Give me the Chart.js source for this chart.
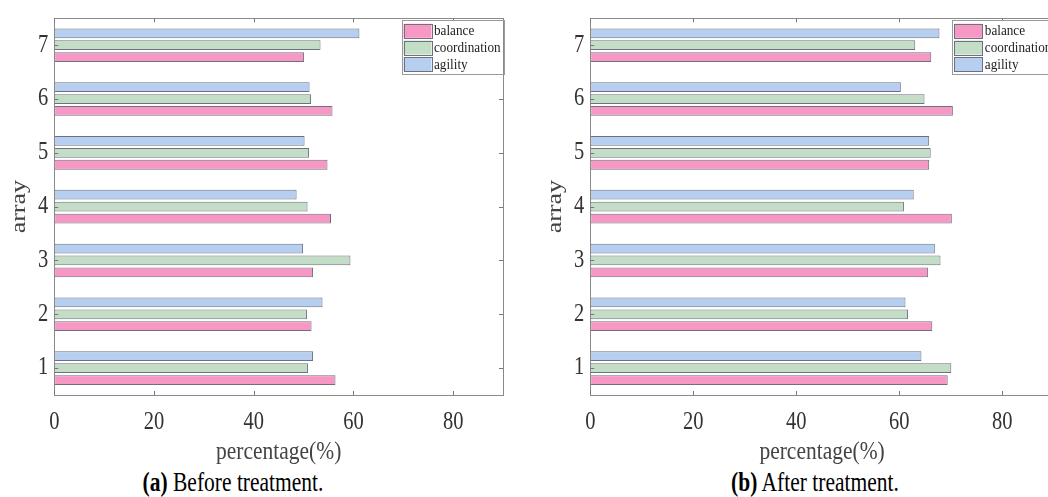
<!DOCTYPE html>
<html><head><meta charset="utf-8">
<script src="https://cdn.jsdelivr.net/npm/chart.js@4/dist/chart.umd.min.js"></script>
<style>
html,body{margin:0;padding:0;background:#fff;overflow:hidden;width:1048px;height:497px;position:relative;}
.panel{position:absolute;top:0;height:465px;}
#pa{left:0;width:520px;}
#pb{left:536px;width:530px;}
.cap{position:absolute;top:470px;font-family:"Liberation Serif","Times New Roman",serif;font-size:21.5px;color:#000;white-space:nowrap;transform:translateX(-50%) scaleY(1.24);line-height:24px;}
</style></head>
<body>
<div class="panel" id="pa"><canvas id="ca"></canvas></div>
<div class="panel" id="pb"><canvas id="cb"></canvas></div>
<div class="cap" style="left:233px"><b>(a)</b> Before treatment.</div>
<div class="cap" style="left:815px"><b>(b)</b> After treatment.</div>
<script>
// Categories (array index 1..7)
const categories = ['1','2','3','4','5','6','7'];
const seriesNames = ['agility','coordination','balance'];
const legendOrder = ['balance','coordination','agility'];
// (a) Before treatment
const beforeAgility      = [51.9, 53.8, 49.9, 48.6, 50.2, 51.2, 61.2];
const beforeCoordination = [50.9, 50.7, 59.4, 50.8, 51.1, 51.5, 53.4];
const beforeBalance      = [56.4, 51.6, 51.9, 55.5, 54.8, 55.8, 50.1];
// (b) After treatment
const afterAgility      = [64.3, 61.2, 66.9, 62.8, 65.8, 60.3, 67.8];
const afterCoordination = [70.1, 61.7, 68.0, 60.9, 66.1, 64.9, 63.1];
const afterBalance      = [69.4, 66.4, 65.6, 70.2, 65.8, 70.4, 66.2];
// x-axis
const xTicks = [0, 20, 40, 60, 80];
const xMax = 90;

const colors = {agility:'#b6cff0', coordination:'#c3ddc6', balance:'#f798c4'};
const barBorder = '#6d7080';
const SERIF = '"Liberation Serif","Times New Roman",serif';
const TEXT_STRETCH = 1.18;

// stretch all text vertically (in device space) about its anchor point
const stretchPlugin = {
  id:'stretch',
  beforeDraw(chart){
    const ctx = chart.ctx;
    if (ctx.__stretched) return;
    ctx.__stretched = true;
    const orig = ctx.fillText;
    ctx.fillText = function(t, x, y, mw){
      const m = this.getTransform();
      const px = m.a*x + m.c*y + m.e, py = m.b*x + m.d*y + m.f;
      this.save();
      const S = new DOMMatrix().translate(px, py).scale(1, TEXT_STRETCH).translate(-px, -py).multiply(m);
      this.setTransform(S);
      if (mw === undefined) orig.call(this, t, x, y); else orig.call(this, t, x, y, mw);
      this.restore();
    };
  }
};

const framePlugin = {
  id:'frame',
  afterDatasetsDraw(chart){
    const {ctx, chartArea:a, scales} = chart;
    ctx.save();
    ctx.strokeStyle = '#8a8a8a';
    ctx.lineWidth = 1;
    ctx.strokeRect(Math.round(a.left)+0.5, Math.round(a.top)+0.5, Math.round(a.right-a.left), Math.round(a.bottom-a.top));
    ctx.strokeStyle = '#777';
    ctx.beginPath();
    xTicks.forEach(v=>{
      const x = Math.round(scales.x.getPixelForValue(v))+0.5;
      ctx.moveTo(x, a.bottom); ctx.lineTo(x, a.bottom-4);
      ctx.moveTo(x, a.top); ctx.lineTo(x, a.top+4);
    });
    categories.forEach((c,i)=>{
      const y = Math.round(scales.y.getPixelForValue(i))+0.5;
      ctx.moveTo(a.left, y); ctx.lineTo(a.left+4, y);
      ctx.moveTo(a.right, y); ctx.lineTo(a.right-4, y);
    });
    ctx.stroke();
    // legend
    const bw = 101.5, bh = 54;
    const bx = a.right - bw, by = a.top + 2;
    ctx.fillStyle = '#fff';
    ctx.fillRect(bx, by, bw, bh);
    ctx.strokeStyle = '#9a9a9a';
    ctx.strokeRect(Math.round(bx)+0.5, Math.round(by)+0.5, Math.round(bw), Math.round(bh));
    ctx.font = '13.2px ' + SERIF;
    ctx.textBaseline = 'middle';
    ctx.textAlign = 'left';
    legendOrder.forEach((name,i)=>{
      const ds = chart.data.datasets.find(d=>d.label===name);
      const sy = by + 3.5 + i*16.7;
      ctx.fillStyle = ds.backgroundColor;
      ctx.fillRect(bx+2, sy, 28, 14);
      ctx.strokeStyle = barBorder;
      ctx.strokeRect(Math.round(bx+2)+0.5, Math.round(sy)+0.5, 28, 14);
      ctx.fillStyle = '#222';
      ctx.fillText(name, bx+32.5, sy+7.5);
    });
    ctx.restore();
  }
};

function makeChart(id, agi, coo, bal, padRight, yWidth){
  const dsMap = {agility:agi, coordination:coo, balance:bal};
  return new Chart(document.getElementById(id), {
    type:'bar',
    data:{
      labels:categories,
      datasets: seriesNames.map(n=>({
        label:n, data:dsMap[n], backgroundColor:colors[n],
        borderColor:barBorder, borderWidth:1, borderSkipped:false,
        categoryPercentage:0.665, barPercentage:0.82
      }))
    },
    options:{
      indexAxis:'y',
      responsive:true, maintainAspectRatio:false, animation:false,
      layout:{padding:{left:0, right:padRight, top:10.7, bottom:0}},
      plugins:{legend:{display:false}, tooltip:{enabled:false}},
      scales:{
        x:{
          min:0, max:xMax,
          grid:{display:false, drawTicks:false},
          border:{display:false},
          afterBuildTicks(s){ s.ticks = xTicks.map(v=>({value:v})); },
          afterFit(s){ s.height = 70; },
          ticks:{font:{family:SERIF, size:20.5}, color:'#333', padding:15},
          title:{display:true, text:'percentage(%)', font:{family:SERIF, size:21.5}, color:'#444', padding:{top:0,bottom:0}}
        },
        y:{
          reverse:true,
          grid:{display:false, drawTicks:false},
          border:{display:false},
          afterFit(s){ s.width = yWidth; },
          ticks:{font:{family:SERIF, size:20.5}, color:'#333', padding:6},
          title:{display:true, text:'array', font:{family:SERIF, size:22}, color:'#444', padding:{top:6.5,bottom:0}}
        }
      }
    },
    plugins:[stretchPlugin, framePlugin]
  });
}

makeChart('ca', beforeAgility, beforeCoordination, beforeBalance, 17, 54.3);
makeChart('cb', afterAgility, afterCoordination, afterBalance, 12.2, 54.3);
</script>
</body></html>
